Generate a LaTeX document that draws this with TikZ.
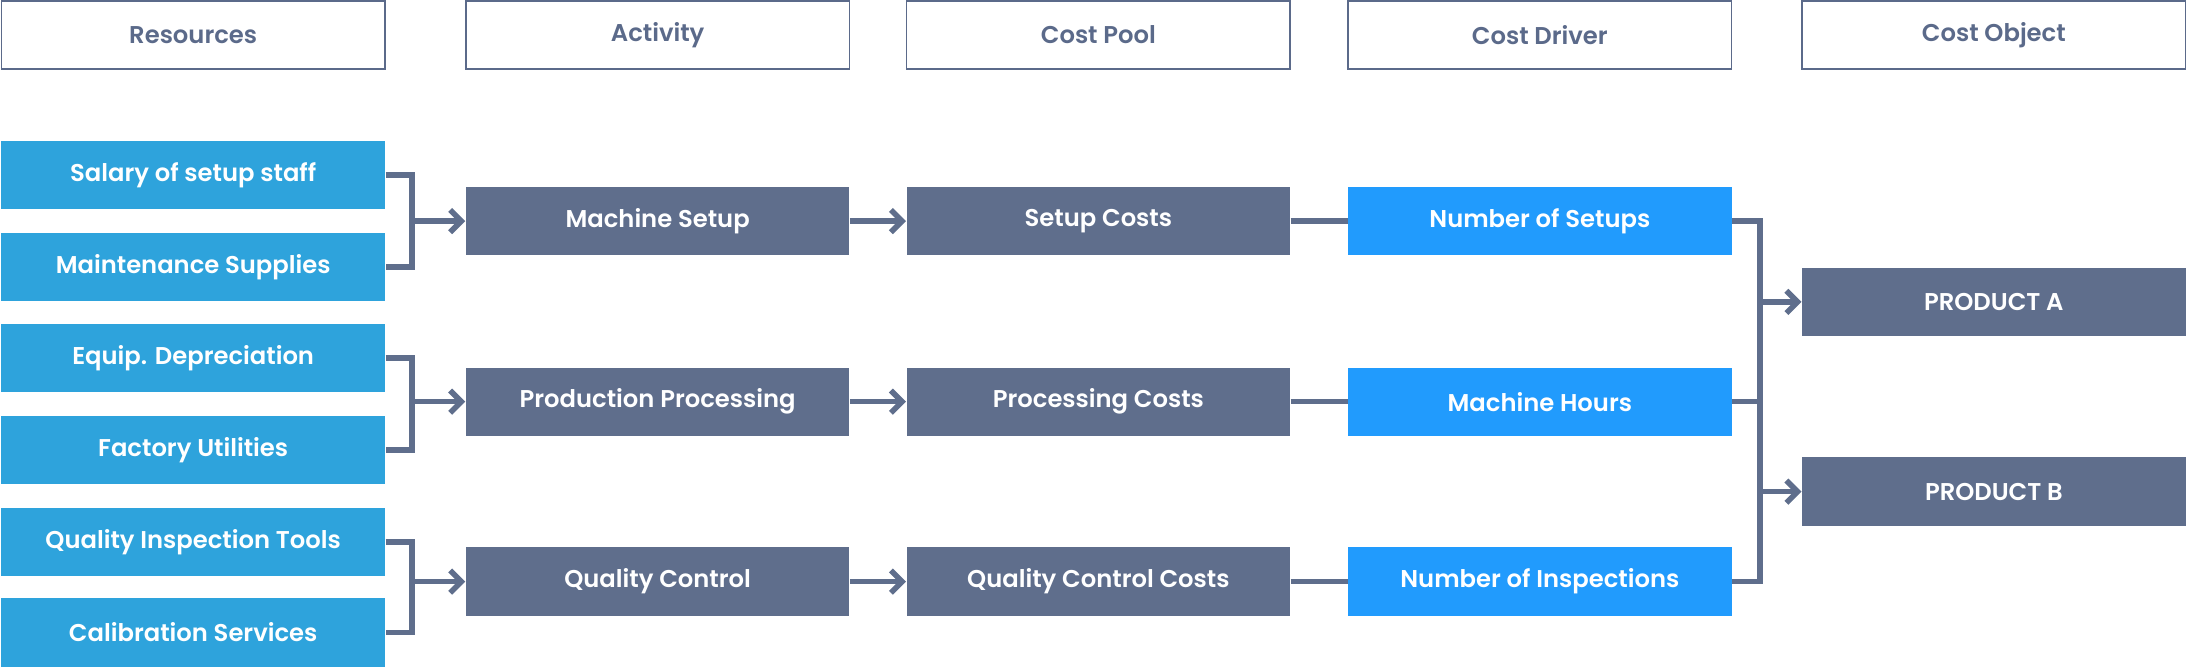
\documentclass[tikz,border=0pt]{standalone}
\usepackage{fontspec}
\setmainfont{Poppins}[BoldFont={* SemiBold}]
\usetikzlibrary{arrows.meta}
\definecolor{hdr}{HTML}{5B6A8A}
\definecolor{res}{HTML}{2EA3DC}
\definecolor{dark}{HTML}{5F6E8C}
\definecolor{drv}{HTML}{219BFD}
\begin{document}
\begin{tikzpicture}[x=0.5pt,y=-0.5pt,
  box/.style={minimum width=137.5pt,minimum height=24.5pt,inner sep=0,font=\fontsize{8.7}{10}\selectfont\bfseries,text=white},
  head/.style={box,draw=hdr,line width=0.6pt,fill=white,text=hdr},
  rs/.style={box,fill=res},
  dk/.style={box,fill=dark},
  dv/.style={box,fill=drv},
  ln/.style={draw=dark,line width=2pt},
  ar/.style={ln,-{Straight Barb[length=4pt,width=8pt,line width=2pt]}}]
\useasboundingbox (0,0) rectangle (1568,480);
\foreach \n/\x/\t in {h1/138.5/Resources,h2/471.5/Activity,h3/787.5/Cost Pool,h4/1104/Cost Driver,h5/1429.5/Cost Object}
  \node[head] (\n) at (\x,25) {\t};
\node[rs] (r1) at (138.5,125.5) {Salary of setup staff};
\node[rs] (r2) at (138.5,191.5) {Maintenance Supplies};
\node[rs] (r3) at (138.5,256.5) {Equip. Depreciation};
\node[rs] (r4) at (138.5,322.5) {Factory Utilities};
\node[rs] (r5) at (138.5,388.5) {Quality Inspection Tools};
\node[rs] (r6) at (138.5,453.5) {Calibration Services};
\node[dk] (a1) at (471.5,158.5) {Machine Setup};
\node[dk] (a2) at (471.5,288) {Production Processing};
\node[dk] (a3) at (471.5,417) {Quality Control};
\node[dk] (c1) at (787.5,158.5) {Setup Costs};
\node[dk] (c2) at (787.5,288) {Processing Costs};
\node[dk] (c3) at (787.5,417) {Quality Control Costs};
\node[dv] (d1) at (1104,158.5) {Number of Setups};
\node[dv] (d2) at (1104,288) {Machine Hours};
\node[dv] (d3) at (1104,417) {Number of Inspections};
\node[dk] (p1) at (1429.5,216.5) {PRODUCT A};
\node[dk] (p2) at (1429.5,352.5) {PRODUCT B};
\foreach \a/\b/\c in {r1/r2/a1,r3/r4/a2,r5/r6/a3}{
  \draw[ln] (\a.east) -- ++(19,0) coordinate(t) |- (\b.east);
  \draw[ar] (t|-\c) -- (\c.west);}
\foreach \i in {1,2,3}{
  \draw[ar] (a\i) -- (c\i);
  \draw[ln] (c\i) -- (d\i);}
\draw[ln] (d1.east) -- ++(20,0) coordinate(s) -- (s|-d3) -- (d3.east);
\draw[ln] (d2.east) -- (s|-d2);
\draw[ar] (s|-p1) -- (p1.west);
\draw[ar] (s|-p2) -- (p2.west);
\end{tikzpicture}
\end{document}
